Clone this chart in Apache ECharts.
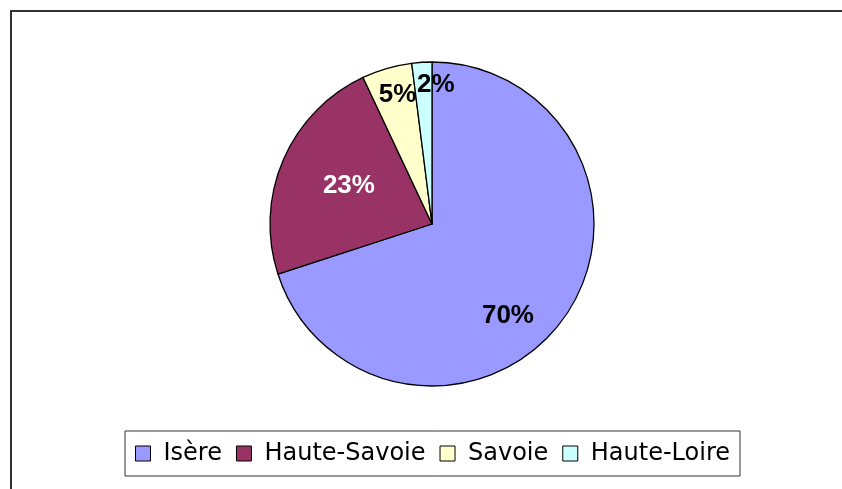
<!DOCTYPE html>
<html><head><meta charset="utf-8">
<script src="https://cdn.jsdelivr.net/npm/echarts@6/dist/echarts.min.js"></script>
<style>html,body{margin:0;padding:0;background:#fff}#c{width:842px;height:489px}</style>
</head><body><div id="c"></div>
<script>
const categories = ['Isère', 'Haute-Savoie', 'Savoie', 'Haute-Loire'];
const values = [70, 23, 5, 2];
const colors = ['#9999FF', '#993366', '#FFFFCC', '#CCFFFF'];
const labelColors = ['#000', '#fff', '#000', '#000'];
const labelShift = [[8, 42], [-6, -5], [-11, -49], [9, -55]];
const FONT = '"Comic Sans MS", "DejaVu Sans", sans-serif';
const LABEL_FONT = '"Comic Sans MS", "Liberation Sans", sans-serif';

const chart = echarts.init(document.getElementById('c'), null, {renderer: 'canvas'});
const total = values.reduce((a, b) => a + b, 0);
chart.setOption({
  animation: false,
  backgroundColor: '#fff',
  graphic: [{
    type: 'rect', shape: {x: 11, y: 11, width: 900, height: 600},
    style: {fill: 'none', stroke: '#333', lineWidth: 2}, silent: true
  }],
  legend: {
    data: categories, left: 125, top: 431, orient: 'horizontal',
    padding: [10, 10], itemGap: 14, itemWidth: 15, itemHeight: 15,
    borderColor: '#333', borderWidth: 1, icon: 'rect',
    itemStyle: {borderColor: '#000', borderWidth: 1},
    textStyle: {fontFamily: FONT, fontSize: 24, lineHeight: 25, color: '#000', padding: [0, 0, 0, 8]}
  },
  series: [{
    type: 'pie', center: [432, 224], radius: 162, startAngle: 90, clockwise: true,
    data: categories.map((n, i) => ({
      name: n, value: values[i],
      itemStyle: {color: colors[i]},
      label: {color: labelColors[i]}
    })),
    itemStyle: {borderColor: '#000', borderWidth: 1.3},
    label: {
      show: true, position: 'inside', fontFamily: LABEL_FONT, fontWeight: 'bold', fontSize: 26,
      formatter: p => Math.round(p.value / total * 100) + '%'
    },
    labelLayout: p => ({dx: labelShift[p.dataIndex][0], dy: labelShift[p.dataIndex][1]}),
    labelLine: {show: false},
    emphasis: {disabled: true}
  }]
});
</script></body></html>
